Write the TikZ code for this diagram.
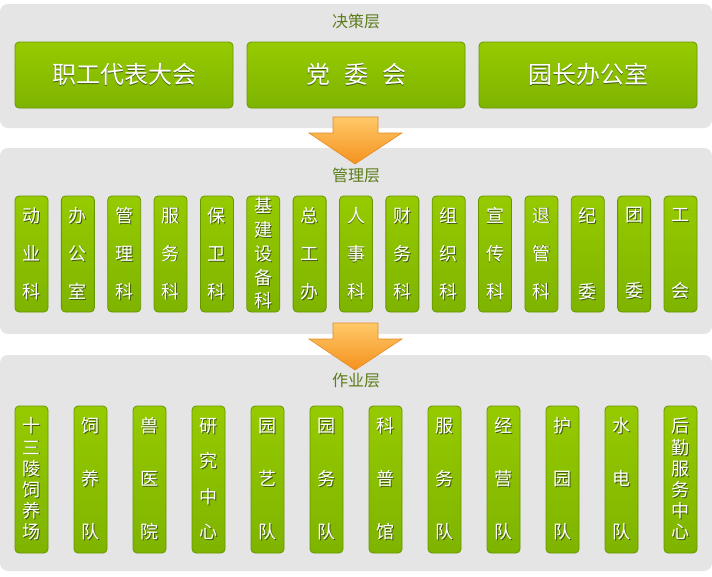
\documentclass[tikz,border=0pt]{standalone}
\usepackage{fontspec}
\setmainfont{Noto Sans CJK SC}
\definecolor{panel}{RGB}{229,229,229}
\definecolor{gtop}{RGB}{150,202,0}
\definecolor{gbot}{RGB}{126,180,0}
\definecolor{gline}{RGB}{104,150,0}
\definecolor{shc}{RGB}{66,90,16}
\definecolor{lab}{RGB}{92,124,24}
\definecolor{otop}{RGB}{255,200,104}
\definecolor{obot}{RGB}{245,146,30}
\definecolor{oline}{RGB}{226,138,40}
\newcommand\sh[1]{\rlap{\kern0.9pt\raisebox{-0.9pt}{\textcolor{shc}{#1}}}#1}
\newcommand\vtwo[2]{\sh{#1}\\\sh{#2}}
\newcommand\vthree[3]{\sh{#1}\\\sh{#2}\\\sh{#3}}
\newcommand\vfour[4]{\sh{#1}\\\sh{#2}\\\sh{#3}\\\sh{#4}}
\newcommand\vfive[5]{\sh{#1}\\\sh{#2}\\\sh{#3}\\\sh{#4}\\\sh{#5}}
\newcommand\vsix[6]{\sh{#1}\\\sh{#2}\\\sh{#3}\\\sh{#4}\\\sh{#5}\\\sh{#6}}
\tikzset{
  panelbox/.style={rectangle, rounded corners=8pt, fill=panel, inner sep=0pt, minimum width=712pt},
  layerlab/.style={text=lab, font=\fontsize{16pt}{18pt}\selectfont, inner sep=0pt},
  gbox/.style={rectangle, rounded corners=4pt, draw=gline, line width=0.8pt, top color=gtop, bottom color=gbot, text=white, inner sep=0pt, align=center},
  topbox/.style={gbox, minimum width=218pt, minimum height=66pt, font=\fontsize{24pt}{26pt}\selectfont},
  mbox/.style={gbox, minimum width=33pt, minimum height=116pt},
  obox/.style={gbox, minimum width=33pt, minimum height=147pt},
  m2/.style={font=\fontsize{18pt}{76pt}\selectfont},
  m3/.style={font=\fontsize{18pt}{38pt}\selectfont},
  m5/.style={font=\fontsize{18pt}{23.75pt}\selectfont},
  o3/.style={font=\fontsize{18pt}{53pt}\selectfont},
  o4/.style={font=\fontsize{18pt}{35.3pt}\selectfont},
  o6/.style={font=\fontsize{18pt}{21.2pt}\selectfont},
  downarrow/.style={top color=otop, bottom color=obot, draw=oline, line width=0.6pt}
}
\begin{document}
\begin{tikzpicture}[x=1pt,y=-1pt]
\useasboundingbox (0,0) rectangle (712,576);
% panels
\node[panelbox, minimum height=124pt] (p1) at (356,66) {};
\node[panelbox, minimum height=186pt] (p2) at (356,241) {};
\node[panelbox, minimum height=216pt] (p3) at (356,463) {};
% arrows
\shade[downarrow] (333,117) -- (378,117) -- (378,133) -- (402,133) -- (355,164) -- (309,133) -- (333,133) -- cycle;
\shade[downarrow] (333,323) -- (378,323) -- (378,339) -- (402,339) -- (355,370) -- (309,339) -- (333,339) -- cycle;
% layer labels
\node[layerlab] (l1) at (356,21) {决策层};
\node[layerlab] (l2) at (356,175) {管理层};
\node[layerlab] (l3) at (356,381) {作业层};
% decision layer
\node[topbox] (t1) at (124,75) {\sh{职工代表大会}};
\node[topbox] (t2) at (356,75) {\sh{党}\hspace{14pt}\sh{委}\hspace{14pt}\sh{会}};
\node[topbox] (t3) at (588,75) {\sh{园长办公室}};
% management layer
\foreach \txt/\sty [count=\i from 0] in {
  {\vthree{动}{业}{科}}/m3, {\vthree{办}{公}{室}}/m3, {\vthree{管}{理}{科}}/m3,
  {\vthree{服}{务}{科}}/m3, {\vthree{保}{卫}{科}}/m3, {\vfive{基}{建}{设}{备}{科}}/m5,
  {\vthree{总}{工}{办}}/m3, {\vthree{人}{事}{科}}/m3, {\vthree{财}{务}{科}}/m3,
  {\vthree{组}{织}{科}}/m3, {\vthree{宣}{传}{科}}/m3, {\vthree{退}{管}{科}}/m3,
  {\vtwo{纪}{委}}/m2, {\vtwo{团}{委}}/m2, {\vtwo{工}{会}}/m2}
  \node[mbox,\sty] (m\i) at ({31.5+46.357*\i},254) {\txt};
% operations layer
\foreach \txt/\sty [count=\i from 0] in {
  {\vsix{十}{三}{陵}{饲}{养}{场}}/o6, {\vthree{饲}{养}{队}}/o3, {\vthree{兽}{医}{院}}/o3,
  {\vfour{研}{究}{中}{心}}/o4, {\vthree{园}{艺}{队}}/o3, {\vthree{园}{务}{队}}/o3,
  {\vthree{科}{普}{馆}}/o3, {\vthree{服}{务}{队}}/o3, {\vthree{经}{营}{队}}/o3,
  {\vthree{护}{园}{队}}/o3, {\vthree{水}{电}{队}}/o3, {\vsix{后}{勤}{服}{务}{中}{心}}/o6}
  \node[obox,\sty] (o\i) at ({31.5+59*\i},479.5) {\txt};
\end{tikzpicture}
\end{document}
